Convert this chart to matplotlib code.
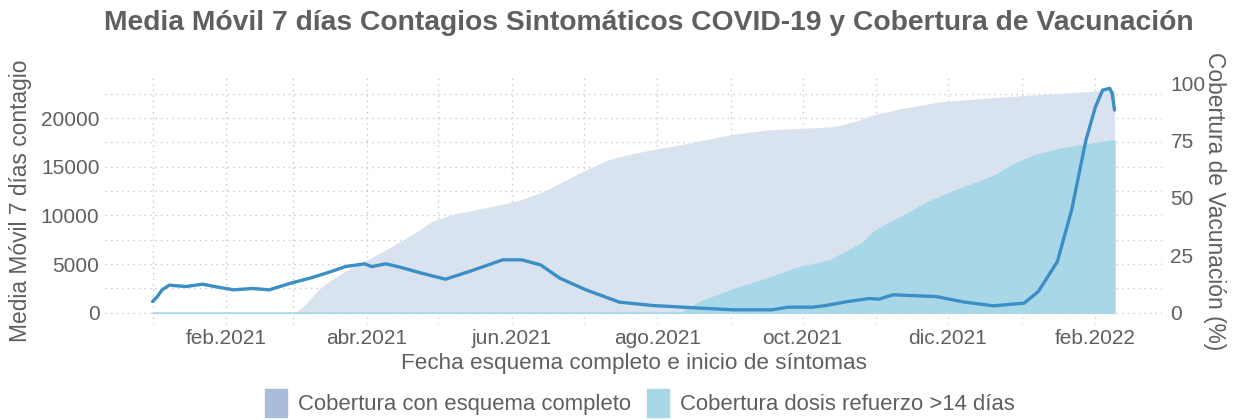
import pandas as pd
import matplotlib.pyplot as plt
import matplotlib.dates as mdates
from matplotlib.patches import Patch

plt.rcParams["font.family"] = ["Liberation Sans", "DejaVu Sans"]

# 7-day moving average of symptomatic cases
case_dates = [
    "2021-01-01", "2021-01-03", "2021-01-05", "2021-01-08", "2021-01-15", "2021-01-22",
    "2021-01-27", "2021-02-04", "2021-02-12", "2021-02-19", "2021-02-28", "2021-03-09",
    "2021-03-17", "2021-03-23", "2021-03-31", "2021-04-03", "2021-04-09", "2021-04-15",
    "2021-04-24", "2021-05-04", "2021-05-14", "2021-05-20", "2021-05-28", "2021-06-05",
    "2021-06-13", "2021-06-21", "2021-07-02", "2021-07-16", "2021-07-30", "2021-08-19",
    "2021-09-02", "2021-09-18", "2021-09-25", "2021-10-05", "2021-10-10", "2021-10-20",
    "2021-10-29", "2021-11-02", "2021-11-08", "2021-11-26", "2021-12-08", "2021-12-20",
    "2022-01-02", "2022-01-08", "2022-01-16", "2022-01-22", "2022-01-28", "2022-02-01",
    "2022-02-04", "2022-02-07", "2022-02-08", "2022-02-09",
]
cases = [
    1160, 1670, 2360, 2840, 2700, 2940,
    2700, 2360, 2500, 2360, 3040, 3620,
    4240, 4750, 5030, 4750, 5030, 4680,
    4070, 3450, 4240, 4750, 5440, 5440,
    4920, 3560, 2360, 1100, 750, 480,
    310, 310, 580, 580, 720, 1160,
    1470, 1400, 1850, 1670, 1100, 720,
    990, 2190, 5260, 10560, 17740, 21160,
    22870, 23050, 22530, 20820,
]

# coverage with complete scheme (%)
full_dates = [
    "2021-01-01", "2021-03-02", "2021-03-06", "2021-03-12", "2021-03-17", "2021-03-26",
    "2021-04-01", "2021-04-09", "2021-04-15", "2021-04-23", "2021-04-28", "2021-05-06",
    "2021-05-14", "2021-05-27", "2021-06-04", "2021-06-13", "2021-06-21", "2021-06-29",
    "2021-07-11", "2021-07-22", "2021-08-02", "2021-08-14", "2021-08-22", "2021-09-02",
    "2021-09-16", "2021-09-30", "2021-10-14", "2021-10-24", "2021-10-30", "2021-11-12",
    "2021-11-28", "2021-12-24", "2022-01-21", "2022-02-09",
]
full_cov = [
    0, 0, 3.5, 10.4, 14.3, 20.0,
    23.0, 27.4, 31.0, 36.0, 39.7, 42.6,
    44.3, 47.0, 49.0, 52.3, 56.4, 60.7,
    66.5, 69.4, 71.6, 73.8, 75.5, 77.7,
    79.6, 80.3, 81.0, 83.6, 86.0, 89.0,
    91.9, 94.0, 95.8, 97.0,
]

# booster coverage >14 days (%)
boost_dates = [
    "2021-01-01", "2021-08-11", "2021-08-19", "2021-09-02", "2021-09-16", "2021-09-30",
    "2021-10-12", "2021-10-18", "2021-10-26", "2021-10-31", "2021-11-06", "2021-11-14",
    "2021-11-23", "2021-12-01", "2021-12-12", "2021-12-21", "2021-12-29", "2022-01-07",
    "2022-01-18", "2022-01-29", "2022-02-09",
]
boost_cov = [
    0, 0, 4.9, 10.3, 15.0, 20.0,
    22.7, 26.0, 30.3, 35.4, 39.0, 43.3,
    48.4, 52.0, 56.4, 60.0, 65.0, 68.7,
    71.6, 73.5, 75.2,
]

# secondary axis factor: 100 % on the right = this many cases on the left
SCALE = 235.9

GREY = "#5f5f5f"


def main():
    cd = pd.to_datetime(case_dates)
    fd = pd.to_datetime(full_dates)
    bd = pd.to_datetime(boost_dates)
    full = pd.Series(full_cov) * SCALE
    boost = pd.Series(boost_cov) * SCALE

    fig = plt.figure(figsize=(12.35, 4.2), dpi=100)
    ax = fig.add_axes([0.085, 0.229, 0.856, 0.585])

    ax.fill_between(fd, 0, full, color="#d9e2ef", linewidth=0, zorder=1)
    ax.fill_between(bd, 0, boost, facecolor="#a8d8e8", edgecolor="#a8d8e8",
                    linewidth=1, zorder=2)
    ax.plot(cd, cases, color="#3b8fc5", linewidth=2.4, zorder=3,
            solid_capstyle="round")

    ax.set_xlim(pd.Timestamp("2020-12-12"), pd.Timestamp("2022-03-01"))
    ax.set_ylim(-1130, 24100)

    ax.xaxis.set_major_locator(mdates.MonthLocator(bymonth=[2, 4, 6, 8, 10, 12]))
    ax.xaxis.set_minor_locator(mdates.MonthLocator())
    months = {2: "feb", 4: "abr", 6: "jun", 8: "ago", 10: "oct", 12: "dic"}
    ax.xaxis.set_major_formatter(
        plt.FuncFormatter(lambda v, p: "%s.%d" % (months[mdates.num2date(v).month],
                                                  mdates.num2date(v).year)))
    ax.set_yticks([0, 5000, 10000, 15000, 20000])
    ax.set_yticks([2500, 7500, 12500, 17500, 22500], minor=True)

    ax.set_axisbelow(True)
    ax.grid(True, which="both", color="#c8c8c8", linestyle=(0, (1, 3)), linewidth=1)
    for s in ax.spines.values():
        s.set_visible(False)
    ax.tick_params(which="both", length=0, labelsize=15, colors=GREY, pad=4)

    ax.set_ylabel("Media Móvil 7 días contagio", fontsize=16.4, color=GREY, labelpad=6)
    ax.set_xlabel("Fecha esquema completo e inicio de síntomas", fontsize=16.2,
                  color=GREY, labelpad=3)

    sec = ax.secondary_yaxis("right", functions=(lambda y: y / SCALE,
                                                 lambda p: p * SCALE))
    sec.set_yticks([0, 25, 50, 75, 100])
    sec.tick_params(length=0, labelsize=15, colors=GREY, pad=6)
    for s in sec.spines.values():
        s.set_visible(False)
    sec.set_ylabel("Cobertura de Vacunación (%)", fontsize=16.4, color=GREY,
                   rotation=270, labelpad=15)

    fig.text(0.525, 0.945,
             "Media Móvil 7 días Contagios Sintomáticos COVID-19 y Cobertura de Vacunación",
             ha="center", va="center", fontsize=20.3, fontweight="bold", color=GREY)

    handles = [Patch(color="#a9bcdc", label="Cobertura con esquema completo"),
               Patch(color="#a8d8e8", label="Cobertura dosis refuerzo >14 días")]
    leg = fig.legend(handles=handles, loc="center", bbox_to_anchor=(0.518, 0.04),
                     ncol=2, frameon=False, fontsize=15.9, handlelength=1.0,
                     handleheight=1.6, handletextpad=0.5, columnspacing=0.7)
    for t in leg.get_texts():
        t.set_color(GREY)

    fig.savefig("out.png", dpi=100)
    plt.close(fig)


if __name__ == "__main__":
    main()
